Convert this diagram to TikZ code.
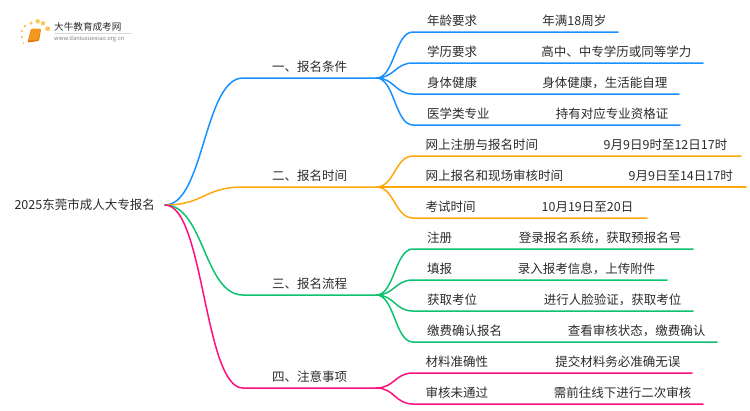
\documentclass[tikz,border=0pt]{standalone}
\usepackage{fontspec}
\setmainfont{Noto Sans CJK SC}
\usetikzlibrary{positioning}
\definecolor{lineblue}{HTML}{1890FF}
\definecolor{lineorange}{HTML}{FFA70F}
\definecolor{linegreen}{HTML}{0CC26E}
\definecolor{linepink}{HTML}{FF0F7B}
\definecolor{textgray}{HTML}{2B2B2B}
\definecolor{bookorange}{HTML}{F39A1E}
\definecolor{bookedge}{HTML}{E0780F}
\definecolor{dotyellow}{HTML}{FBC65A}
\tikzset{
    every node/.style={font=\fontsize{12.5}{14}\selectfont, text=textgray},
    topic/.style={text height=9.5pt, text depth=2.5pt, inner ysep=3.7pt, inner xsep=0pt},
    branch/.style={topic, anchor=south west, minimum width=133pt},
    itemkey/.style={topic, anchor=south west, inner xsep=14pt},
    itemval/.style={topic, anchor=south east, inner xsep=11.5pt},
    link/.style={line width=1.5pt, line cap=round},
    dot/.style={circle, fill=dotyellow, inner sep=0pt}
}
\begin{document}
\begin{tikzpicture}[x=1pt, y=-1pt]
            \useasboundingbox (0,0) rectangle (750,410);
            % logo
            \node[dot, minimum size=3pt] (d1) at (25,26) {};
            \node[dot, minimum size=3.5pt] (d3) at (31,23) {};
            \node[dot, minimum size=4.5pt] (d4) at (37.7,21.3) {};
            \node[dot, minimum size=4.5pt] (d5) at (43,23.3) {};
            \node[dot, minimum size=5pt] (d6) at (47.7,28.7) {};
            \node[dot, minimum size=2.5pt] (d7) at (22,31) {};
            \node[dot, minimum size=2.5pt] (d8) at (22,37) {};
            \node[dot, minimum size=2pt] (d9) at (23.5,43) {};
            \fill[bookedge, rounded corners=1pt] (31,29) -- (41,29) -- (39,41) -- (27.5,42.5) -- cycle;
            \fill[bookorange, rounded corners=1pt] (31.5,28.5) -- (41,28.5) -- (38,40) -- (28.5,40.5) -- cycle;
            \node[anchor=west, inner sep=0pt, font=\fontsize{9.6}{10}\selectfont] (sitename) at (54,27) {大牛教育成考网};
            \node[anchor=west, inner sep=0pt, font=\fontsize{5.8}{6}\selectfont, text=gray] (siteurl) at (54,38.5) {www.daniuxuexiao.org.cn};
            \draw[black!15, line width=0.5pt] (54,33) -- (132,33);

            \node[inner xsep=10pt, inner ysep=0pt, anchor=east, text height=11.5pt, text depth=2pt] (root) at (165,205) {2025东莞市成人大专报名};

            % branch nodes
            \node[branch] (cond) at (243,78) {一、报名条件};
            \node[branch] (time) at (243,187) {二、报名时间};
            \node[branch] (flow) at (243,295) {三、报名流程};
            \node[branch] (note) at (243,388) {四、注意事项};

            % leaves
            \node[itemkey] (age) at (413,32) {年龄要求};
            \node[itemval] (ageval) at (618,32) {年满18周岁};
            \node[itemkey] (edu) at (413,63) {学历要求};
            \node[itemval] (eduval) at (703,63) {高中、中专学历或同等学力};
            \node[itemkey] (body) at (413,94) {身体健康};
            \node[itemval] (bodyval) at (679,94) {身体健康，生活能自理};
            \node[itemkey] (med) at (413,125) {医学类专业};
            \node[itemval] (medval) at (680,125) {持有对应专业资格证};

            \node[itemkey, inner xsep=12.5pt] (web) at (413,156) {网上注册与报名时间};
            \node[itemval, inner xsep=13.5pt] (webval) at (741,156) {9月9日9时至12日17时};
            \node[itemkey, inner xsep=12.5pt] (site) at (413,187) {网上报名和现场审核时间};
            \node[itemval, inner xsep=13pt] (siteval) at (746,187) {9月9日至14日17时};
            \node[itemkey, inner xsep=12.5pt] (exam) at (413,218) {考试时间};
            \node[itemval, inner xsep=13.5pt] (examval) at (647,218) {10月19日至20日};

            \node[itemkey] (reg) at (413,249) {注册};
            \node[itemval] (regval) at (693,249) {登录报名系统，获取预报名号};
            \node[itemkey] (fill) at (413,280) {填报};
            \node[itemval] (fillval) at (667,280) {录入报考信息，上传附件};
            \node[itemkey] (seat) at (413,311) {获取考位};
            \node[itemval] (seatval) at (693,311) {进行人脸验证，获取考位};
            \node[itemkey] (pay) at (413,342) {缴费确认报名};
            \node[itemval] (payval) at (717,342) {查看审核状态，缴费确认};

            \node[itemkey, inner xsep=12.5pt] (mat) at (413,373) {材料准确性};
            \node[itemval] (matval) at (692,373) {提交材料务必准确无误};
            \node[itemkey, inner xsep=12.5pt] (fail) at (413,404) {审核未通过};
            \node[itemval] (failval) at (703,404) {需前往线下进行二次审核};

            % root to branches
            \draw[link, lineblue] (root.east) .. controls +(39,0) and +(-39,0) .. (cond.south west) -- (cond.south east);
            \draw[link, lineorange] (root.east) .. controls +(39,0) and +(-39,0) .. (time.south west) -- (time.south east);
            \draw[link, linegreen] (root.east) .. controls +(39,0) and +(-39,0) .. (flow.south west) -- (flow.south east);
            \draw[link, linepink] (root.east) .. controls +(39,0) and +(-39,0) .. (note.south west) -- (note.south east);

            % branches to leaves
            \draw[link, lineblue] (cond.south east) .. controls +(18,0) and +(-18,0) .. (age.south west) -- (ageval.south east);
            \draw[link, lineblue] (cond.south east) .. controls +(18,0) and +(-18,0) .. (edu.south west) -- (eduval.south east);
            \draw[link, lineblue] (cond.south east) .. controls +(18,0) and +(-18,0) .. (body.south west) -- (bodyval.south east);
            \draw[link, lineblue] (cond.south east) .. controls +(18,0) and +(-18,0) .. (med.south west) -- (medval.south east);

            \draw[link, lineorange] (time.south east) .. controls +(18,0) and +(-18,0) .. (web.south west) -- (webval.south east);
            \draw[link, lineorange] (time.south east) .. controls +(18,0) and +(-18,0) .. (site.south west) -- (siteval.south east);
            \draw[link, lineorange] (time.south east) .. controls +(18,0) and +(-18,0) .. (exam.south west) -- (examval.south east);

            \draw[link, linegreen] (flow.south east) .. controls +(18,0) and +(-18,0) .. (reg.south west) -- (regval.south east);
            \draw[link, linegreen] (flow.south east) .. controls +(18,0) and +(-18,0) .. (fill.south west) -- (fillval.south east);
            \draw[link, linegreen] (flow.south east) .. controls +(18,0) and +(-18,0) .. (seat.south west) -- (seatval.south east);
            \draw[link, linegreen] (flow.south east) .. controls +(18,0) and +(-18,0) .. (pay.south west) -- (payval.south east);

            \draw[link, linepink] (note.south east) .. controls +(18,0) and +(-18,0) .. (mat.south west) -- (matval.south east);
            \draw[link, linepink] (note.south east) .. controls +(18,0) and +(-18,0) .. (fail.south west) -- (failval.south east);
        \end{tikzpicture}
\end{document}
